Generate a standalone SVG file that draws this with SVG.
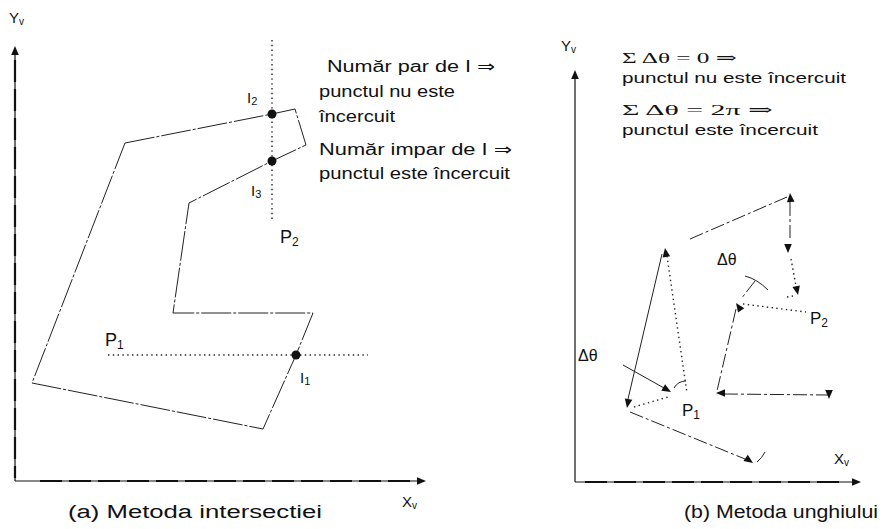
<svg xmlns="http://www.w3.org/2000/svg" xmlns:xlink="http://www.w3.org/1999/xlink" width="884" height="529" viewBox="0 0 884 529">
<style>
  .t { font-family: "Liberation Sans", Arial, "DejaVu Sans", sans-serif; fill: #111; }
  .s { font-family: "Liberation Serif", "Times New Roman", "DejaVu Serif", serif; fill: #111; }
  .axis { stroke: #111; stroke-width: 1.2; fill: none; }
  .axisd { stroke: #111; stroke-width: 2.2; fill: none; stroke-dasharray: 22 7; }
  .poly { stroke: #222; stroke-width: 1; fill: none; stroke-dasharray: 30 2 3 2; }
  .edge { stroke: #222; stroke-width: 1; fill: none; stroke-dasharray: 14 3 3 3; }
  .dot { stroke: #222; stroke-width: 1.4; fill: none; stroke-dasharray: 1.4 3.4; }
  .solid { stroke: #222; stroke-width: 1; fill: none; }
  .ah { fill: #111; }
</style>
<defs>
  <path id="ah" d="M0,0 L-9,-3.8 L-9,3.8 Z"/>
</defs>

<rect width="884" height="529" fill="#fff"/>

<!-- Panel (a) -->
<g id="panel-a">
  <g id="axes-a">
    <line class="axis" x1="15" y1="52" x2="15" y2="481"/>
    <line class="axisd" x1="15" y1="60" x2="15" y2="478"/>
    <line class="axis" x1="15" y1="481" x2="418" y2="481"/>
    <line class="axisd" x1="40" y1="481" x2="410" y2="481"/>
    <use href="#ah" class="ah" transform="translate(15,46) rotate(-90)"/>
    <use href="#ah" class="ah" transform="translate(426,481)"/>
    <text class="t" x="9" y="23" font-size="15">Y<tspan font-size="10" dy="2">v</tspan></text>
    <text class="t" x="402" y="507" font-size="15">X<tspan font-size="10" dy="2">v</tspan></text>
  </g>
  <g id="polygon-a">
    <polygon class="poly" points="125,143 272,114 295,109 306,145 272,161 189,203 173,313 313,313 296,355 263,429 32,383"/>
  </g>
  <g id="connectors-a">
    <line class="dot" x1="272" y1="40" x2="272" y2="220"/>
    <line class="dot" x1="108" y1="355" x2="368" y2="355"/>
  </g>
  <g id="intersections">
    <circle cx="272" cy="114" r="4.5" fill="#111"/>
    <circle cx="272" cy="161" r="4.5" fill="#111"/>
    <circle cx="296" cy="355" r="4.5" fill="#111"/>
    <text class="t" x="247" y="103" font-size="15">I<tspan font-size="11" dy="2">2</tspan></text>
    <text class="t" x="251" y="196" font-size="15">I<tspan font-size="11" dy="2">3</tspan></text>
    <text class="t" x="300" y="383" font-size="15">I<tspan font-size="11" dy="2">1</tspan></text>
    <text class="t" x="280" y="243" font-size="18">P<tspan font-size="12" dy="3">2</tspan></text>
    <text class="t" x="105" y="346" font-size="18">P<tspan font-size="12" dy="3">1</tspan></text>
  </g>
  <g id="notes-a">
    <text class="t" x="327" y="72" font-size="16" textLength="168" lengthAdjust="spacingAndGlyphs">Număr par de I ⇒</text>
    <text class="t" x="319" y="97" font-size="16" textLength="136" lengthAdjust="spacingAndGlyphs">punctul nu este</text>
    <text class="t" x="319" y="122" font-size="16" textLength="76" lengthAdjust="spacingAndGlyphs">încercuit</text>
    <text class="t" x="319" y="155" font-size="16" textLength="193" lengthAdjust="spacingAndGlyphs">Număr impar de I ⇒</text>
    <text class="t" x="319" y="179" font-size="16" textLength="191" lengthAdjust="spacingAndGlyphs">punctul este încercuit</text>
  </g>
  <text id="caption-a" class="t" x="68" y="518" font-size="18" textLength="254" lengthAdjust="spacingAndGlyphs">(a) Metoda intersectiei</text>
</g>

<!-- Panel (b) -->
<g id="panel-b">
  <g id="axes-b">
    <line class="axis" x1="575" y1="78" x2="575" y2="482"/>
    <line class="axis" x1="575" y1="482" x2="852" y2="482"/>
    <line class="axisd" x1="585" y1="482" x2="845" y2="482"/>
    <use href="#ah" class="ah" transform="translate(575,70) rotate(-90)"/>
    <use href="#ah" class="ah" transform="translate(861,482)"/>
    <text class="t" x="561" y="51" font-size="15">Y<tspan font-size="10" dy="2">v</tspan></text>
    <text class="t" x="834" y="464" font-size="15">X<tspan font-size="10" dy="2">v</tspan></text>
  </g>
  <g id="notes-b">
    <text class="s" x="622" y="63" font-size="15" textLength="115" lengthAdjust="spacingAndGlyphs">Σ Δθ = 0 ⇒</text>
    <text class="t" x="622" y="83" font-size="15" textLength="224" lengthAdjust="spacingAndGlyphs">punctul nu este încercuit</text>
    <text class="s" x="622" y="115" font-size="15" textLength="151" lengthAdjust="spacingAndGlyphs">Σ Δθ = 2π ⇒</text>
    <text class="t" x="622" y="135" font-size="15" textLength="196" lengthAdjust="spacingAndGlyphs">punctul este încercuit</text>
  </g>
  <g id="connectors-b">
    <!-- polygon edges -->
    <line class="edge" x1="690" y1="239" x2="787" y2="197"/>
    <line class="edge" x1="790" y1="202" x2="790" y2="238"/>
    <line class="dot" x1="791" y1="259" x2="796" y2="286"/>
    <line class="dot" x1="787" y1="297" x2="793" y2="296"/>
    <path class="solid" d="M745,276 Q757,279 768,290"/>
    <line class="edge" x1="755" y1="281" x2="741" y2="299"/>
    <line class="dot" x1="743" y1="304" x2="806" y2="312"/>
    <line class="edge" x1="736" y1="309" x2="717" y2="391"/>
    <line class="edge" x1="724" y1="394" x2="828" y2="395"/>
    <line class="solid" x1="662" y1="254" x2="628" y2="399"/>
    <line class="edge" x1="630" y1="412" x2="745" y2="459"/>
    <path class="solid" d="M757,462 Q762,458 765,452"/>
    <!-- rays to P1 -->
    <line class="dot" x1="667" y1="256" x2="687" y2="393"/>
    <line class="dot" x1="634" y1="407" x2="668" y2="397"/>
    <line class="solid" x1="623" y1="365" x2="664" y2="388"/>
    <path class="solid" d="M674,388 Q678,381 686,381"/>
    <!-- arrowheads -->
    <use href="#ah" class="ah" transform="translate(665,248) rotate(-99)"/>
    <use href="#ah" class="ah" transform="translate(790,193) rotate(-95)"/>
    <use href="#ah" class="ah" transform="translate(788,253) rotate(90)"/>
    <use href="#ah" class="ah" transform="translate(798,295) rotate(78)"/>
    <use href="#ah" class="ah" transform="translate(736,303) rotate(-125)"/>
    <use href="#ah" class="ah" transform="translate(716,393) rotate(180)"/>
    <use href="#ah" class="ah" transform="translate(829,399) rotate(90)"/>
    <use href="#ah" class="ah" transform="translate(627,408) rotate(100)"/>
    <use href="#ah" class="ah" transform="translate(753,463) rotate(35)"/>
    <use href="#ah" class="ah" transform="translate(671,392) rotate(30)"/>
  </g>
  <g id="labels-b">
    <text class="t" x="717" y="265" font-size="16">Δθ</text>
    <text class="t" x="578" y="361" font-size="16">Δθ</text>
    <text class="t" x="682" y="416" font-size="17">P<tspan font-size="12" dy="3">1</tspan></text>
    <text class="t" x="810" y="324" font-size="17">P<tspan font-size="12" dy="3">2</tspan></text>
  </g>
  <text id="caption-b" class="t" x="684" y="518" font-size="18" textLength="194" lengthAdjust="spacingAndGlyphs">(b) Metoda unghiului</text>
</g>
</svg>
